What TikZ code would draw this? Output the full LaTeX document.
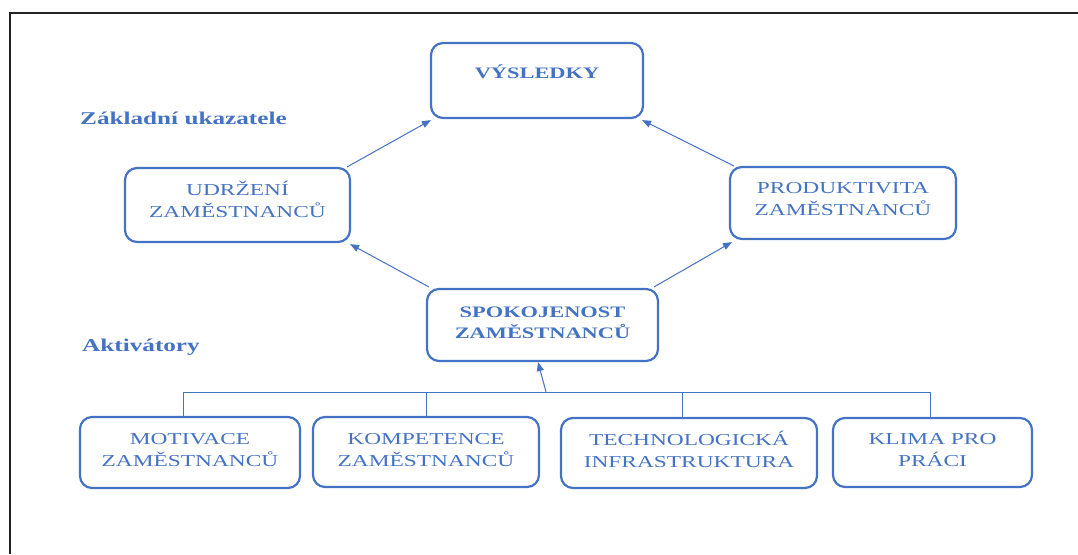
\documentclass[tikz,border=0pt]{standalone}
\usepackage{fontspec}
\usetikzlibrary{arrows.meta}
\newfontfamily\tnr[FakeStretch=1.4]{Liberation Serif}
\definecolor{obl}{HTML}{4472C4}
\definecolor{frm}{HTML}{222222}
\tikzset{
  box/.style={draw=obl, line width=2.2pt, rounded corners=12pt, fill=white,
    text=obl, align=center, inner sep=0pt, text height=28.6pt, text depth=0pt,
    font=\tnr\fontsize{16.7}{22}\selectfont},
  bbox/.style={box, font=\tnr\bfseries\fontsize{16}{21.5}\selectfont},
  lbl/.style={text=obl, inner sep=0pt, font=\tnr\bfseries\fontsize{18}{22}\selectfont},
  arr/.style={draw=obl, line width=1pt, -{Triangle[length=9pt,width=7pt]}},
  ln/.style={draw=obl, line width=1pt}
}
\begin{document}
\begin{tikzpicture}[x=1pt,y=-1pt]
\useasboundingbox (0,0) rectangle (1078,554);
% frame
\draw[frm, line width=2pt] (9.5,554) -- (9.5,13) -- (1078,13);

% top-level boxes
\node[bbox, minimum width=212pt, minimum height=75pt, text height=11pt, text depth=15.5pt] (vys) at (537,80.5) {VÝSLEDKY};
\node[box, minimum width=225pt, minimum height=74pt, text height=24.6pt] (udr) at (237.5,205) {UDRŽENÍ\\ZAMĚSTNANCŮ};
\node[box, minimum width=226pt, minimum height=72pt, text height=24.6pt] (pro) at (843,203) {PRODUKTIVITA\\ZAMĚSTNANCŮ};
\node[bbox, minimum width=231pt, minimum height=72pt, text height=27.5pt] (spo) at (542.5,325) {SPOKOJENOST\\ZAMĚSTNANCŮ};

% bottom boxes
\node[box, minimum width=220pt, minimum height=71pt] (mot) at (190,452.5) {MOTIVACE\\ZAMĚSTNANCŮ};
\node[box, minimum width=226pt, minimum height=70pt] (kom) at (426,452) {KOMPETENCE\\ZAMĚSTNANCŮ};
\node[box, minimum width=256pt, minimum height=70pt] (tec) at (689,453) {TECHNOLOGICKÁ\\INFRASTRUKTURA};
\node[box, minimum width=199pt, minimum height=69pt] (kli) at (932.5,452.5) {KLIMA PRO\\PRÁCI};

% labels
\node[lbl, anchor=base west] (zak) at (80,124) {Základní ukazatele};
\node[lbl, anchor=base west] (akt) at (82,351) {Aktivátory};

% arrows between upper boxes
\draw[arr] ([xshift=-4pt]udr.north east) -- ([xshift=1pt,yshift=-1pt]vys.south west);
\draw[arr] ([xshift=5pt]pro.north west) -- ([xshift=-2pt,yshift=-1pt]vys.south east);
\draw[arr] ([xshift=3pt,yshift=1pt]spo.north west) -- ([xshift=-1pt,yshift=-1pt]udr.south east);
\draw[arr] ([xshift=-5pt,yshift=1pt]spo.north east) -- ([xshift=3pt,yshift=-2pt]pro.south west);

% bus
\coordinate (busL) at (183,392);
\coordinate (busR) at (930,392);
\coordinate (busA) at (546,392);
\draw[ln] (busL) -- (busR);
\draw[ln] (busL) -- (busL |- mot.north);
\draw[ln] (kom.north) -- (kom.north |- busL);
\draw[ln] ([xshift=-7pt]tec.north) -- ([xshift=-7pt]tec.north |- busL);
\draw[ln] (busR) -- (busR |- kli.north);
\draw[arr] (busA) -- ([xshift=-4.5pt]spo.south);
\end{tikzpicture}
\end{document}
